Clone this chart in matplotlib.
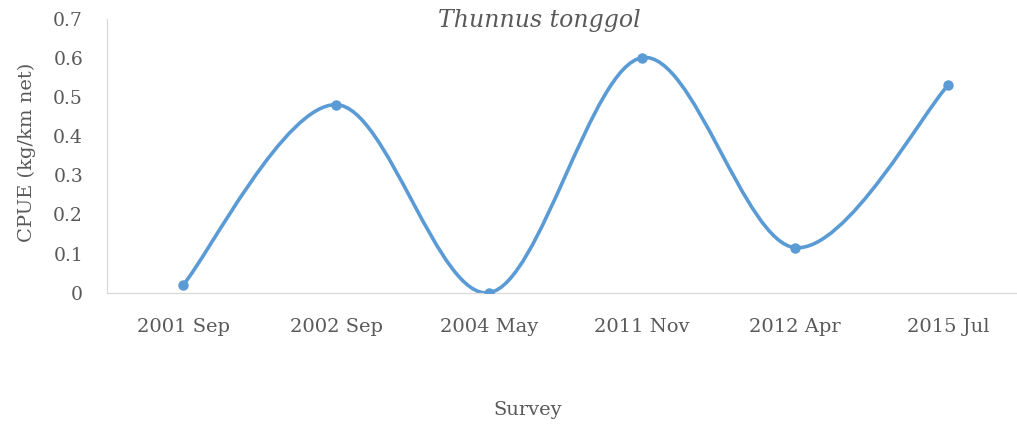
import numpy as np
import matplotlib.pyplot as plt
from matplotlib.path import Path
from matplotlib.patches import PathPatch

# Survey CPUE values for Thunnus tonggol
surveys = ['2001 Sep', '2002 Sep', '2004 May', '2011 Nov', '2012 Apr', '2015 Jul']
cpue = [0.02, 0.48, 0.0, 0.60, 0.115, 0.53]
yticks = [0, 0.1, 0.2, 0.3, 0.4, 0.5, 0.6, 0.7]
ytick_labels = ['0', '0.1', '0.2', '0.3', '0.4', '0.5', '0.6', '0.7']

BLUE = '#5B9BD5'
GRAY = '#595959'
plt.rcParams['font.family'] = ['DejaVu Serif']

W, H = 1017, 426
fig = plt.figure(figsize=(W / 100, H / 100), dpi=100)
ax = fig.add_axes([106.7 / W, 1 - 292.7 / H, 918 / W, (292.7 - 18.5) / H])

# Excel-style smoothed line: cubic Bezier segments through the points
x = np.arange(len(cpue))
pts = np.column_stack([x, cpue]).astype(float)
n = len(pts)
verts = [pts[0]]
codes = [Path.MOVETO]
for i in range(n - 1):
    p0 = pts[max(i - 1, 0)]
    p1 = pts[i]
    p2 = pts[i + 1]
    p3 = pts[min(i + 2, n - 1)]
    verts += [p1 + (p2 - p0) / 6, p2 - (p3 - p1) / 6, p2]
    codes += [Path.CURVE4] * 3
curve = PathPatch(Path(verts, codes), facecolor='none', edgecolor=BLUE,
                  lw=2.6, capstyle='round', joinstyle='round', zorder=2)
ax.add_patch(curve)
ax.plot(x, cpue, 'o', color=BLUE, ms=6.5, zorder=3)

ax.set_xlim(-0.5, 5.5)
ax.set_ylim(0, 0.7)
ax.set_xticks(x)
ax.set_xticklabels(surveys, fontsize=14, color=GRAY)
ax.set_yticks(yticks)
ax.set_yticklabels(ytick_labels, fontsize=13.5, color=GRAY)
ax.tick_params(axis='x', length=0, pad=18)
ax.tick_params(axis='y', length=0, pad=17)

for side in ['top', 'right']:
    ax.spines[side].set_visible(False)
for side in ['left', 'bottom']:
    ax.spines[side].set_color('#D9D9D9')
    ax.spines[side].set_linewidth(0.9)

fig.text(539 / W, 1 - 27 / H, 'Thunnus tonggol', style='italic', fontsize=17,
         color=GRAY, ha='center', va='baseline')
fig.text(27 / W, 1 - 152 / H, 'CPUE (kg/km net)', rotation=90, fontsize=14,
         color=GRAY, ha='center', va='center')
fig.text(528 / W, 1 - 410 / H, 'Survey', fontsize=14, color=GRAY,
         ha='center', va='center')

fig.savefig('out.png', dpi=100)
